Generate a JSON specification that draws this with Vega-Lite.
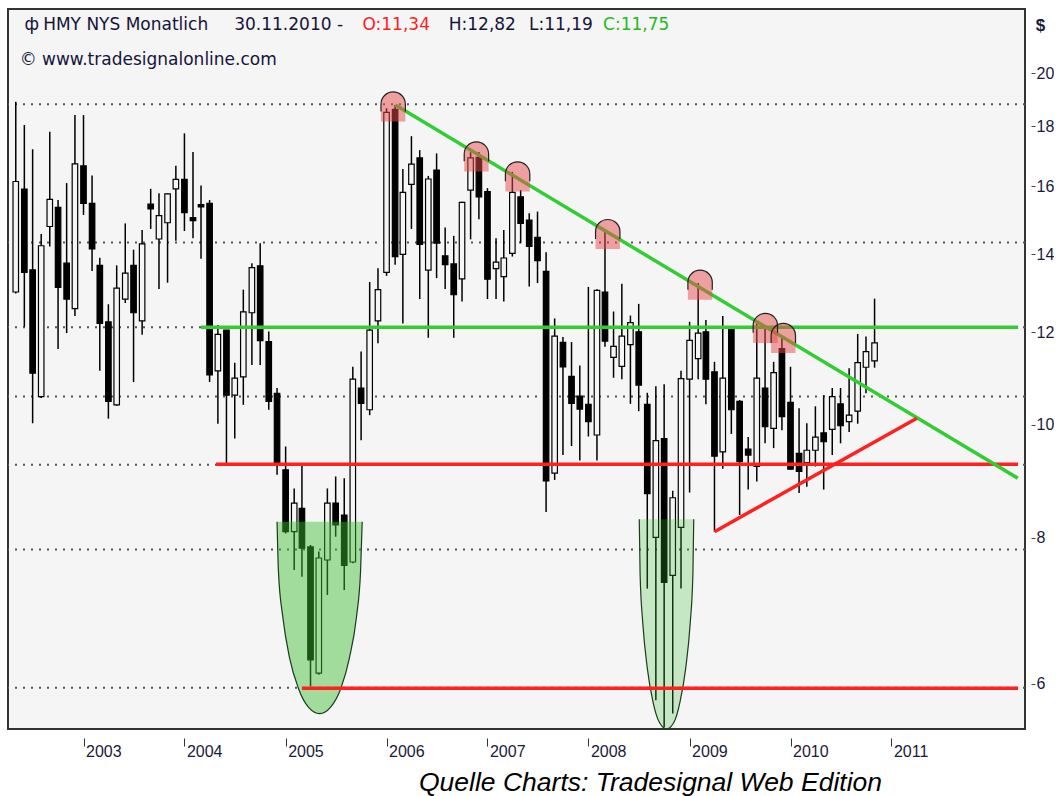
{
  "$schema": "https://vega.github.io/schema/vega-lite/v6.json",
  "width": 1017,
  "height": 720,
  "padding": {"left": 7, "top": 9, "right": 0, "bottom": 0},
  "background": "white",
  "config": {
    "view": {"fill": "#f5f5f5", "stroke": "#333333", "strokeWidth": 2},
    "axis": {"grid": false, "domain": false}
  },
  "resolve": {"axis": {"x": "independent", "y": "independent"}},
  "datasets": {
    "candles": [
      {"d":"2002-05-01","o":12.99,"h":18.90,"l":12.95,"c":16.15},
      {"d":"2002-06-01","o":15.91,"h":18.05,"l":12.13,"c":13.50},
      {"d":"2002-07-01","o":13.57,"h":17.21,"l":10.03,"c":11.07},
      {"d":"2002-08-01","o":10.57,"h":14.56,"l":10.54,"c":14.23},
      {"d":"2002-09-01","o":14.78,"h":17.81,"l":14.21,"c":15.59},
      {"d":"2002-10-01","o":15.35,"h":15.57,"l":11.61,"c":13.11},
      {"d":"2002-11-01","o":13.75,"h":16.10,"l":11.98,"c":12.81},
      {"d":"2002-12-01","o":12.57,"h":18.41,"l":12.39,"c":16.72},
      {"d":"2003-01-01","o":16.66,"h":18.41,"l":15.12,"c":15.47},
      {"d":"2003-02-01","o":15.47,"h":16.34,"l":13.54,"c":14.14},
      {"d":"2003-03-01","o":13.69,"h":13.90,"l":11.12,"c":12.21},
      {"d":"2003-04-01","o":12.25,"h":12.68,"l":10.12,"c":10.47},
      {"d":"2003-05-01","o":10.40,"h":13.69,"l":10.38,"c":13.09},
      {"d":"2003-06-01","o":12.81,"h":14.87,"l":12.71,"c":13.48},
      {"d":"2003-07-01","o":13.69,"h":14.12,"l":10.88,"c":12.47},
      {"d":"2003-08-01","o":12.27,"h":14.68,"l":11.94,"c":14.28},
      {"d":"2003-09-01","o":15.45,"h":15.92,"l":14.71,"c":15.30},
      {"d":"2003-10-01","o":14.42,"h":15.78,"l":13.07,"c":15.10},
      {"d":"2003-11-01","o":14.89,"h":15.78,"l":13.23,"c":15.76},
      {"d":"2003-12-01","o":15.92,"h":16.66,"l":14.37,"c":16.22},
      {"d":"2004-01-01","o":16.22,"h":17.76,"l":14.65,"c":15.19},
      {"d":"2004-02-01","o":15.04,"h":17.12,"l":14.44,"c":14.95},
      {"d":"2004-03-01","o":15.43,"h":16.02,"l":13.87,"c":15.36},
      {"d":"2004-04-01","o":15.47,"h":15.57,"l":10.88,"c":11.03},
      {"d":"2004-05-01","o":11.12,"h":12.17,"l":10.02,"c":11.95},
      {"d":"2004-06-01","o":12.05,"h":12.05,"l":9.27,"c":10.60},
      {"d":"2004-07-01","o":10.60,"h":11.30,"l":9.73,"c":10.96},
      {"d":"2004-08-01","o":10.99,"h":13.05,"l":10.40,"c":12.49},
      {"d":"2004-09-01","o":12.47,"h":13.75,"l":11.25,"c":13.63},
      {"d":"2004-10-01","o":13.68,"h":14.30,"l":11.25,"c":11.80},
      {"d":"2004-11-01","o":11.78,"h":12.02,"l":10.30,"c":10.47},
      {"d":"2004-12-01","o":10.64,"h":10.75,"l":9.06,"c":9.27},
      {"d":"2005-01-01","o":9.15,"h":9.58,"l":8.07,"c":8.10},
      {"d":"2005-02-01","o":8.10,"h":8.82,"l":7.51,"c":8.57},
      {"d":"2005-03-01","o":8.48,"h":9.24,"l":7.41,"c":7.84},
      {"d":"2005-04-01","o":7.86,"h":7.89,"l":5.97,"c":6.29},
      {"d":"2005-05-01","o":6.13,"h":7.79,"l":6.11,"c":7.69},
      {"d":"2005-06-01","o":7.66,"h":8.82,"l":7.15,"c":8.57},
      {"d":"2005-07-01","o":8.57,"h":9.03,"l":8.02,"c":8.21},
      {"d":"2005-08-01","o":8.37,"h":9.00,"l":7.22,"c":7.58},
      {"d":"2005-09-01","o":7.63,"h":11.21,"l":7.61,"c":10.94},
      {"d":"2005-10-01","o":10.75,"h":11.55,"l":9.70,"c":10.43},
      {"d":"2005-11-01","o":10.30,"h":13.25,"l":10.19,"c":12.05},
      {"d":"2005-12-01","o":12.27,"h":13.61,"l":11.74,"c":13.05},
      {"d":"2006-01-01","o":13.50,"h":18.66,"l":13.41,"c":18.51},
      {"d":"2006-02-01","o":18.62,"h":18.78,"l":13.71,"c":13.93},
      {"d":"2006-03-01","o":13.99,"h":16.55,"l":12.21,"c":15.81},
      {"d":"2006-04-01","o":16.06,"h":17.66,"l":14.71,"c":16.71},
      {"d":"2006-05-01","o":16.92,"h":17.18,"l":12.81,"c":14.27},
      {"d":"2006-06-01","o":13.56,"h":16.33,"l":11.87,"c":16.23},
      {"d":"2006-07-01","o":16.52,"h":17.07,"l":13.35,"c":14.30},
      {"d":"2006-08-01","o":13.95,"h":14.75,"l":13.07,"c":13.71},
      {"d":"2006-09-01","o":13.73,"h":14.51,"l":11.87,"c":12.92},
      {"d":"2006-10-01","o":13.33,"h":15.52,"l":12.75,"c":15.50},
      {"d":"2006-11-01","o":15.88,"h":17.11,"l":14.41,"c":16.92},
      {"d":"2006-12-01","o":16.94,"h":17.12,"l":14.99,"c":15.67},
      {"d":"2007-01-01","o":15.83,"h":15.94,"l":12.81,"c":13.32},
      {"d":"2007-02-01","o":13.60,"h":14.44,"l":12.81,"c":13.78},
      {"d":"2007-03-01","o":13.39,"h":14.68,"l":12.75,"c":13.89},
      {"d":"2007-04-01","o":14.02,"h":16.46,"l":13.93,"c":15.81},
      {"d":"2007-05-01","o":15.67,"h":15.88,"l":14.30,"c":14.87},
      {"d":"2007-06-01","o":14.97,"h":15.17,"l":13.13,"c":14.21},
      {"d":"2007-07-01","o":14.47,"h":15.22,"l":13.22,"c":13.82},
      {"d":"2007-08-01","o":13.53,"h":14.05,"l":8.42,"c":8.95},
      {"d":"2007-09-01","o":9.09,"h":12.33,"l":8.97,"c":11.91},
      {"d":"2007-10-01","o":11.76,"h":11.89,"l":9.42,"c":11.21},
      {"d":"2007-11-01","o":11.00,"h":11.77,"l":9.59,"c":10.43},
      {"d":"2007-12-01","o":10.58,"h":11.24,"l":9.32,"c":10.31},
      {"d":"2008-01-01","o":10.41,"h":13.12,"l":9.77,"c":10.06},
      {"d":"2008-02-01","o":9.80,"h":13.06,"l":9.32,"c":13.03},
      {"d":"2008-03-01","o":12.99,"h":14.62,"l":11.66,"c":11.79},
      {"d":"2008-04-01","o":11.42,"h":12.50,"l":10.97,"c":11.67},
      {"d":"2008-05-01","o":11.22,"h":13.20,"l":10.94,"c":11.91},
      {"d":"2008-06-01","o":11.71,"h":12.40,"l":10.42,"c":12.23},
      {"d":"2008-07-01","o":12.01,"h":12.69,"l":10.27,"c":10.81},
      {"d":"2008-08-01","o":10.41,"h":10.65,"l":7.24,"c":8.73},
      {"d":"2008-09-01","o":8.01,"h":10.79,"l":5.81,"c":9.69},
      {"d":"2008-10-01","o":9.73,"h":10.83,"l":5.51,"c":7.33},
      {"d":"2008-11-01","o":7.43,"h":8.78,"l":5.66,"c":8.66},
      {"d":"2008-12-01","o":8.17,"h":11.12,"l":7.24,"c":10.95},
      {"d":"2009-01-01","o":10.94,"h":12.25,"l":8.75,"c":11.81},
      {"d":"2009-02-01","o":11.39,"h":13.22,"l":10.94,"c":11.98},
      {"d":"2009-03-01","o":12.01,"h":12.29,"l":10.41,"c":10.94},
      {"d":"2009-04-01","o":11.10,"h":11.32,"l":8.10,"c":9.40},
      {"d":"2009-05-01","o":9.48,"h":12.39,"l":9.17,"c":10.96},
      {"d":"2009-06-01","o":12.07,"h":12.12,"l":9.82,"c":10.30},
      {"d":"2009-07-01","o":10.47,"h":10.50,"l":8.37,"c":9.30},
      {"d":"2009-08-01","o":9.53,"h":9.76,"l":8.80,"c":9.42},
      {"d":"2009-09-01","o":9.21,"h":12.21,"l":8.94,"c":10.96},
      {"d":"2009-10-01","o":10.75,"h":12.15,"l":9.64,"c":9.96},
      {"d":"2009-11-01","o":9.93,"h":11.32,"l":9.55,"c":11.08},
      {"d":"2009-12-01","o":11.62,"h":11.91,"l":9.89,"c":10.16},
      {"d":"2010-01-01","o":10.45,"h":11.21,"l":9.15,"c":9.16},
      {"d":"2010-02-01","o":9.45,"h":10.33,"l":8.74,"c":9.12},
      {"d":"2010-03-01","o":9.28,"h":10.03,"l":8.85,"c":9.51},
      {"d":"2010-04-01","o":9.51,"h":10.37,"l":9.21,"c":9.76},
      {"d":"2010-05-01","o":9.84,"h":10.60,"l":8.80,"c":9.67},
      {"d":"2010-06-01","o":9.91,"h":10.75,"l":9.42,"c":10.57},
      {"d":"2010-07-01","o":10.42,"h":10.75,"l":9.64,"c":9.98},
      {"d":"2010-08-01","o":10.06,"h":11.18,"l":9.86,"c":10.19},
      {"d":"2010-09-01","o":10.27,"h":11.96,"l":10.02,"c":11.30},
      {"d":"2010-10-01","o":11.20,"h":11.90,"l":10.64,"c":11.55},
      {"d":"2010-11-01","o":11.34,"h":12.82,"l":11.19,"c":11.75}
    ],
    "levels": [{"v":18.81},{"v":14.32},{"v":12.12},{"v":10.57},{"v":9.24},{"v":7.82},{"v":5.956}],
    "hlines": [
      {"d1":"2004-03-01","d2":"2012-04-03","v":12.12,"kind":"resistance"},
      {"d1":"2004-04-24","d2":"2012-04-03","v":9.25,"kind":"support"},
      {"d1":"2005-03-01","d2":"2012-04-03","v":5.95,"kind":"support"}
    ],
    "tlines": [
      {"id":"down","kind":"resistance","d":"2006-02-02","v":18.78},
      {"id":"down","kind":"resistance","d":"2012-04-02","v":9.00},
      {"id":"up","kind":"support","d":"2009-04-01","v":8.10},
      {"id":"up","kind":"support","d":"2011-04-03","v":10.13}
    ],
    "ell1": [
      {"d":"2004-12-01","v":8.26,"top":8.26},
      {"d":"2004-12-06","v":7.49,"top":8.26},
      {"d":"2004-12-22","v":6.84,"top":8.26},
      {"d":"2005-01-15","v":6.32,"top":8.26},
      {"d":"2005-02-16","v":5.95,"top":8.26},
      {"d":"2005-03-25","v":5.73,"top":8.26},
      {"d":"2005-05-04","v":5.66,"top":8.26},
      {"d":"2005-06-12","v":5.73,"top":8.26},
      {"d":"2005-07-20","v":5.95,"top":8.26},
      {"d":"2005-08-20","v":6.32,"top":8.26},
      {"d":"2005-09-14","v":6.84,"top":8.26},
      {"d":"2005-09-29","v":7.49,"top":8.26},
      {"d":"2005-10-05","v":8.26,"top":8.26}
    ],
    "ell2": [
      {"d":"2008-07-03","v":8.30,"top":8.30},
      {"d":"2008-07-06","v":7.45,"top":8.30},
      {"d":"2008-07-16","v":6.75,"top":8.30},
      {"d":"2008-08-01","v":6.19,"top":8.30},
      {"d":"2008-08-21","v":5.80,"top":8.30},
      {"d":"2008-09-14","v":5.56,"top":8.30},
      {"d":"2008-10-10","v":5.49,"top":8.30},
      {"d":"2008-11-05","v":5.56,"top":8.30},
      {"d":"2008-11-28","v":5.80,"top":8.30},
      {"d":"2008-12-18","v":6.19,"top":8.30},
      {"d":"2009-01-03","v":6.75,"top":8.30},
      {"d":"2009-01-13","v":7.45,"top":8.30},
      {"d":"2009-01-16","v":8.30,"top":8.30}
    ],
    "domes": [
      {"d":"2006-01-25","v":18.81},
      {"d":"2006-11-22","v":17.05},
      {"d":"2007-04-20","v":16.39},
      {"d":"2008-03-11","v":14.63},
      {"d":"2009-02-08","v":13.24},
      {"d":"2009-10-02","v":12.16},
      {"d":"2009-12-06","v":11.92}
    ]
  },
  "layer": [
    {
      "data": {"name": "levels"},
      "mark": {"type": "rule", "strokeDash": [2, 6], "strokeWidth": 2, "color": "#555555"},
      "encoding": {
        "y": {"field": "v", "type": "quantitative", "scale": {"type": "log", "domain": [5.49, 22.69], "nice": false}, "axis": null}
      }
    },
    {
      "data": {"name": "candles"},
      "mark": {"type": "rule", "color": "#000000", "strokeWidth": 1.5},
      "encoding": {
        "x": {"field": "d", "type": "temporal",
          "scale": {"type": "utc", "nice": false, "domain": [{"year": 2002, "month": "apr", "date": 21, "utc": true}, {"year": 2012, "month": "apr", "date": 10, "utc": true}]},
          "axis": {
            "values": [{"year": 2003, "utc": true}, {"year": 2004, "utc": true}, {"year": 2005, "utc": true}, {"year": 2006, "utc": true}, {"year": 2007, "utc": true}, {"year": 2008, "utc": true}, {"year": 2009, "utc": true}, {"year": 2010, "utc": true}, {"year": 2011, "utc": true}],
            "format": "%Y", "offset": 9, "tickSize": 8, "tickColor": "#333333", "tickWidth": 1,
            "labelAlign": "left", "labelBaseline": "top", "labelOffset": 2, "labelPadding": -3,
            "labelFont": "Liberation Sans", "labelFontSize": 16, "labelColor": "#1a1a3a", "labelFlush": false, "labelOverlap": false,
            "title": "Quelle Charts: Tradesignal Web Edition", "titleFont": "Liberation Sans", "titleFontStyle": "italic", "titleFontWeight": "normal",
            "titleFontSize": 26.5, "titleColor": "#000000", "titleX": 642, "titleY": 52, "titleAlign": "center", "titleBaseline": "alphabetic"
          }
        },
        "y": {"field": "l", "type": "quantitative",
          "scale": {"type": "log", "domain": [5.49, 22.69], "nice": false},
          "axis": {
            "orient": "right", "values": [6, 8, 10, 12, 14, 16, 18, 20], "format": "d", "offset": 6, "tickSize": 4, "tickColor": "#444444",
            "labelAlign": "left", "labelBaseline": "middle", "labelPadding": 1, "labelFont": "Liberation Sans", "labelFontSize": 16,
            "labelColor": "#1a1a3a", "labelFlush": false, "labelOverlap": false,
            "title": "$", "titleAngle": 0, "titleX": 9, "titleY": 16, "titleAlign": "center", "titleBaseline": "middle",
            "titleFont": "Liberation Sans", "titleFontSize": 17, "titleFontWeight": "bold", "titleColor": "#1a1a3a"
          }
        },
        "y2": {"field": "h"}
      }
    },
    {
      "data": {"name": "candles"},
      "mark": {"type": "bar", "width": 5.5, "stroke": "#000000", "strokeWidth": 1.2},
      "encoding": {
        "x": {"field": "d", "type": "temporal", "scale": {"type": "utc", "nice": false, "domain": [{"year": 2002, "month": "apr", "date": 21, "utc": true}, {"year": 2012, "month": "apr", "date": 10, "utc": true}]}, "axis": null},
        "y": {"field": "o", "type": "quantitative", "scale": {"type": "log", "domain": [5.49, 22.69], "nice": false}, "axis": null},
        "y2": {"field": "c"},
        "fill": {"condition": {"test": "datum.c < datum.o", "value": "#000000"}, "value": "#f5f5f5"}
      }
    },
    {
      "data": {"name": "ell1"},
      "mark": {"type": "area", "clip": true, "interpolate": "monotone", "color": "#3cbe32", "fillOpacity": 0.45},
      "encoding": {
        "x": {"field": "d", "type": "temporal", "scale": {"type": "utc", "nice": false, "domain": [{"year": 2002, "month": "apr", "date": 21, "utc": true}, {"year": 2012, "month": "apr", "date": 10, "utc": true}]}, "axis": null},
        "y": {"field": "v", "type": "quantitative", "scale": {"type": "log", "domain": [5.49, 22.69], "nice": false}, "axis": null},
        "y2": {"field": "top"}
      }
    },
    {
      "data": {"name": "ell2"},
      "mark": {"type": "area", "clip": true, "interpolate": "monotone", "color": "#3cbe32", "fillOpacity": 0.25},
      "encoding": {
        "x": {"field": "d", "type": "temporal", "scale": {"type": "utc", "nice": false, "domain": [{"year": 2002, "month": "apr", "date": 21, "utc": true}, {"year": 2012, "month": "apr", "date": 10, "utc": true}]}, "axis": null},
        "y": {"field": "v", "type": "quantitative", "scale": {"type": "log", "domain": [5.49, 22.69], "nice": false}, "axis": null},
        "y2": {"field": "top"}
      }
    },
    {
      "data": {"name": "ell1"},
      "mark": {"type": "line", "clip": true, "interpolate": "monotone", "color": "#1e3a1e", "strokeWidth": 1.2},
      "encoding": {
        "x": {"field": "d", "type": "temporal", "scale": {"type": "utc", "nice": false, "domain": [{"year": 2002, "month": "apr", "date": 21, "utc": true}, {"year": 2012, "month": "apr", "date": 10, "utc": true}]}, "axis": null},
        "y": {"field": "v", "type": "quantitative", "scale": {"type": "log", "domain": [5.49, 22.69], "nice": false}, "axis": null}
      }
    },
    {
      "data": {"name": "ell2"},
      "mark": {"type": "line", "clip": true, "interpolate": "monotone", "color": "#1e3a1e", "strokeWidth": 1.2},
      "encoding": {
        "x": {"field": "d", "type": "temporal", "scale": {"type": "utc", "nice": false, "domain": [{"year": 2002, "month": "apr", "date": 21, "utc": true}, {"year": 2012, "month": "apr", "date": 10, "utc": true}]}, "axis": null},
        "y": {"field": "v", "type": "quantitative", "scale": {"type": "log", "domain": [5.49, 22.69], "nice": false}, "axis": null}
      }
    },
    {
      "data": {"name": "hlines"},
      "mark": {"type": "rule", "strokeWidth": 3.5, "clip": true},
      "encoding": {
        "x": {"field": "d1", "type": "temporal", "scale": {"type": "utc", "nice": false, "domain": [{"year": 2002, "month": "apr", "date": 21, "utc": true}, {"year": 2012, "month": "apr", "date": 10, "utc": true}]}, "axis": null},
        "x2": {"field": "d2"},
        "y": {"field": "v", "type": "quantitative", "scale": {"type": "log", "domain": [5.49, 22.69], "nice": false}, "axis": null},
        "color": {"field": "kind", "type": "nominal", "scale": {"domain": ["resistance", "support"], "range": ["#32cd32", "#ff2020"]}, "legend": null}
      }
    },
    {
      "data": {"name": "tlines"},
      "mark": {"type": "line", "strokeWidth": 3.5, "clip": true},
      "encoding": {
        "x": {"field": "d", "type": "temporal", "scale": {"type": "utc", "nice": false, "domain": [{"year": 2002, "month": "apr", "date": 21, "utc": true}, {"year": 2012, "month": "apr", "date": 10, "utc": true}]}, "axis": null},
        "y": {"field": "v", "type": "quantitative", "scale": {"type": "log", "domain": [5.49, 22.69], "nice": false}, "axis": null},
        "detail": {"field": "id"},
        "color": {"field": "kind", "type": "nominal", "scale": {"domain": ["resistance", "support"], "range": ["#32cd32", "#ff2020"]}, "legend": null}
      }
    },
    {
      "data": {"name": "domes"},
      "mark": {"type": "point", "shape": "M-1,1.43L-1,0A1,1,0,0,1,1,0L1,1.43Z", "size": 595, "filled": true, "fill": "#e84a4a", "fillOpacity": 0.5, "strokeWidth": 0},
      "encoding": {
        "x": {"field": "d", "type": "temporal", "scale": {"type": "utc", "nice": false, "domain": [{"year": 2002, "month": "apr", "date": 21, "utc": true}, {"year": 2012, "month": "apr", "date": 10, "utc": true}]}, "axis": null},
        "y": {"field": "v", "type": "quantitative", "scale": {"type": "log", "domain": [5.49, 22.69], "nice": false}, "axis": null}
      }
    },
    {
      "data": {"name": "domes"},
      "mark": {"type": "point", "shape": "M-1,0.6L-1,0A1,1,0,0,1,1,0L1,0.6", "size": 595, "filled": false, "stroke": "#222222", "strokeWidth": 1.2, "opacity": 1},
      "encoding": {
        "x": {"field": "d", "type": "temporal", "scale": {"type": "utc", "nice": false, "domain": [{"year": 2002, "month": "apr", "date": 21, "utc": true}, {"year": 2012, "month": "apr", "date": 10, "utc": true}]}, "axis": null},
        "y": {"field": "v", "type": "quantitative", "scale": {"type": "log", "domain": [5.49, 22.69], "nice": false}, "axis": null}
      }
    },
    {
      "data": {"values": [{}]},
      "mark": {"type": "text", "align": "left", "baseline": "alphabetic", "font": "DejaVu Sans", "fontSize": 17, "color": "#14143c"},
      "encoding": {
        "x": {"datum": {"year": 2002, "month": "jun", "date": 2, "utc": true}, "type": "temporal", "scale": {"type": "utc", "nice": false, "domain": [{"year": 2002, "month": "apr", "date": 21, "utc": true}, {"year": 2012, "month": "apr", "date": 10, "utc": true}]}, "axis": null},
        "y": {"datum": 21.79, "type": "quantitative", "scale": {"type": "log", "domain": [5.49, 22.69], "nice": false}, "axis": null},
        "text": {"value": "ф"}
      }
    },
    {
      "data": {"values": [{}]},
      "mark": {"type": "text", "align": "left", "baseline": "alphabetic", "font": "DejaVu Sans", "fontSize": 17, "color": "#14143c"},
      "encoding": {
        "x": {"datum": {"year": 2002, "month": "aug", "date": 8, "utc": true}, "type": "temporal", "scale": {"type": "utc", "nice": false, "domain": [{"year": 2002, "month": "apr", "date": 21, "utc": true}, {"year": 2012, "month": "apr", "date": 10, "utc": true}]}, "axis": null},
        "y": {"datum": 21.79, "type": "quantitative", "scale": {"type": "log", "domain": [5.49, 22.69], "nice": false}, "axis": null},
        "text": {"value": "HMY NYS Monatlich"}
      }
    },
    {
      "data": {"values": [{}]},
      "mark": {"type": "text", "align": "left", "baseline": "alphabetic", "font": "DejaVu Sans", "fontSize": 17, "color": "#14143c"},
      "encoding": {
        "x": {"datum": {"year": 2004, "month": "jun", "date": 29, "utc": true}, "type": "temporal", "scale": {"type": "utc", "nice": false, "domain": [{"year": 2002, "month": "apr", "date": 21, "utc": true}, {"year": 2012, "month": "apr", "date": 10, "utc": true}]}, "axis": null},
        "y": {"datum": 21.79, "type": "quantitative", "scale": {"type": "log", "domain": [5.49, 22.69], "nice": false}, "axis": null},
        "text": {"value": "30.11.2010 -"}
      }
    },
    {
      "data": {"values": [{}]},
      "mark": {"type": "text", "align": "left", "baseline": "alphabetic", "font": "DejaVu Sans", "fontSize": 17, "color": "#ff2020"},
      "encoding": {
        "x": {"datum": {"year": 2005, "month": "oct", "date": 6, "utc": true}, "type": "temporal", "scale": {"type": "utc", "nice": false, "domain": [{"year": 2002, "month": "apr", "date": 21, "utc": true}, {"year": 2012, "month": "apr", "date": 10, "utc": true}]}, "axis": null},
        "y": {"datum": 21.79, "type": "quantitative", "scale": {"type": "log", "domain": [5.49, 22.69], "nice": false}, "axis": null},
        "text": {"value": "O:11,34"}
      }
    },
    {
      "data": {"values": [{}]},
      "mark": {"type": "text", "align": "left", "baseline": "alphabetic", "font": "DejaVu Sans", "fontSize": 17, "color": "#14143c"},
      "encoding": {
        "x": {"datum": {"year": 2006, "month": "aug", "date": 14, "utc": true}, "type": "temporal", "scale": {"type": "utc", "nice": false, "domain": [{"year": 2002, "month": "apr", "date": 21, "utc": true}, {"year": 2012, "month": "apr", "date": 10, "utc": true}]}, "axis": null},
        "y": {"datum": 21.79, "type": "quantitative", "scale": {"type": "log", "domain": [5.49, 22.69], "nice": false}, "axis": null},
        "text": {"value": "H:12,82"}
      }
    },
    {
      "data": {"values": [{}]},
      "mark": {"type": "text", "align": "left", "baseline": "alphabetic", "font": "DejaVu Sans", "fontSize": 17, "color": "#14143c"},
      "encoding": {
        "x": {"datum": {"year": 2007, "month": "may", "date": 31, "utc": true}, "type": "temporal", "scale": {"type": "utc", "nice": false, "domain": [{"year": 2002, "month": "apr", "date": 21, "utc": true}, {"year": 2012, "month": "apr", "date": 10, "utc": true}]}, "axis": null},
        "y": {"datum": 21.79, "type": "quantitative", "scale": {"type": "log", "domain": [5.49, 22.69], "nice": false}, "axis": null},
        "text": {"value": "L:11,19"}
      }
    },
    {
      "data": {"values": [{}]},
      "mark": {"type": "text", "align": "left", "baseline": "alphabetic", "font": "DejaVu Sans", "fontSize": 17, "color": "#22bb22"},
      "encoding": {
        "x": {"datum": {"year": 2008, "month": "feb", "date": 23, "utc": true}, "type": "temporal", "scale": {"type": "utc", "nice": false, "domain": [{"year": 2002, "month": "apr", "date": 21, "utc": true}, {"year": 2012, "month": "apr", "date": 10, "utc": true}]}, "axis": null},
        "y": {"datum": 21.79, "type": "quantitative", "scale": {"type": "log", "domain": [5.49, 22.69], "nice": false}, "axis": null},
        "text": {"value": "C:11,75"}
      }
    },
    {
      "data": {"values": [{}]},
      "mark": {"type": "text", "align": "left", "baseline": "alphabetic", "font": "DejaVu Sans", "fontSize": 17, "color": "#14143c"},
      "encoding": {
        "x": {"datum": {"year": 2002, "month": "may", "date": 15, "utc": true}, "type": "temporal", "scale": {"type": "utc", "nice": false, "domain": [{"year": 2002, "month": "apr", "date": 21, "utc": true}, {"year": 2012, "month": "apr", "date": 10, "utc": true}]}, "axis": null},
        "y": {"datum": 20.30, "type": "quantitative", "scale": {"type": "log", "domain": [5.49, 22.69], "nice": false}, "axis": null},
        "text": {"value": "© www.tradesignalonline.com"}
      }
    }
  ]
}
